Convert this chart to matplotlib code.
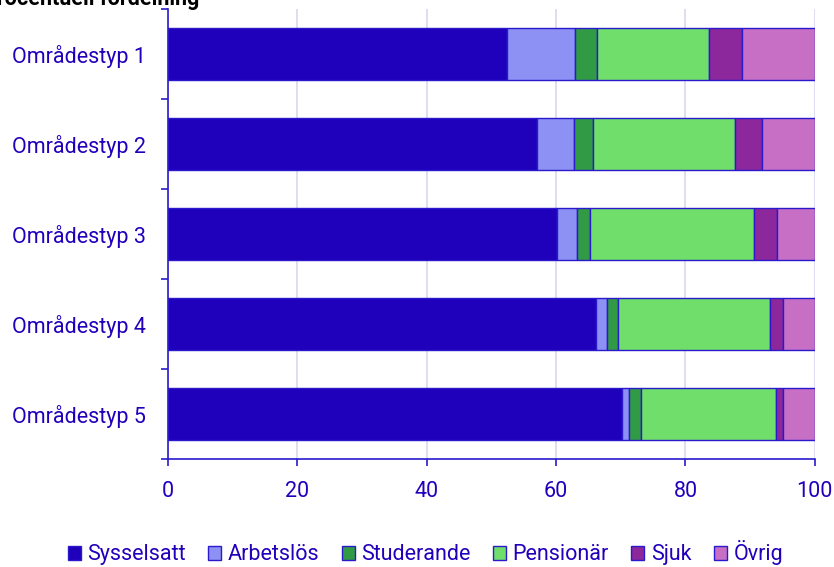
import matplotlib.pyplot as plt
import numpy as np

plt.rcParams['font.family'] = ['Roboto', 'DejaVu Sans']

# data (percent of each area type)
areas = ['Områdestyp 1', 'Områdestyp 2', 'Områdestyp 3', 'Områdestyp 4', 'Områdestyp 5']
groups = ['Sysselsatt', 'Arbetslös', 'Studerande', 'Pensionär', 'Sjuk', 'Övrig']
sysselsatt = [52.4, 57.1, 60.1, 66.1, 70.2]
arbetslos = [10.6, 5.6, 3.2, 1.7, 1.0]
studerande = [3.3, 3.0, 2.0, 1.8, 1.9]
pensionar = [17.4, 21.9, 25.3, 23.4, 20.9]
sjuk = [5.0, 4.3, 3.6, 2.1, 1.1]
ovrig = [11.3, 8.1, 5.8, 4.9, 4.9]
xticks = [0, 20, 40, 60, 80, 100]

colors = ['#1f00bb', '#8c91f3', '#309a45', '#6fde6b', '#8c289c', '#c66fc5']
edge = '#2a1acc'
blue = '#2200bb'

series = [sysselsatt, arbetslos, studerande, pensionar, sjuk, ovrig]

fig = plt.figure(figsize=(8.34, 5.67), dpi=100)
ax = fig.add_axes([0.2014, 0.1905, 0.7756, 0.7935])

y = np.arange(len(areas))
left = np.zeros(len(areas))
for name, vals, col in zip(groups, series, colors):
    ax.barh(y, vals, left=left, height=0.58, color=col, edgecolor=edge,
            linewidth=1, label=name, zorder=3)
    left += np.array(vals)

ax.set_xlim(0, 100)
ax.set_ylim(len(areas) - 0.5, -0.5)
ax.set_yticks(y)
ax.set_yticklabels(areas)
ax.set_yticks(np.arange(-0.5, len(areas), 1), minor=True)
ax.tick_params(axis='y', which='major', length=0, pad=16, labelsize=15.5, labelcolor=blue)
ax.tick_params(axis='y', which='minor', length=5, width=1.2, color=edge)
ax.set_xticks(xticks)
ax.tick_params(axis='x', length=5, width=1.2, color=edge, labelsize=15.5,
               labelcolor=blue, pad=11)

ax.grid(axis='x', color='#d8d8f0', linewidth=1.2, zorder=0)
for s in ['top', 'right']:
    ax.spines[s].set_visible(False)
for s in ['left', 'bottom']:
    ax.spines[s].set_color(edge)
    ax.spines[s].set_linewidth(1.2)

fig.text(-0.02, 1 - 5 / 567, 'Procentuell fördelning', fontsize=15.5, fontweight='bold',
         color='black', va='baseline', ha='left')

leg = fig.legend(loc='center', bbox_to_anchor=(0.51, 0.025), ncol=6, frameon=False,
                 fontsize=15.5, handlelength=0.6, handleheight=0.6, handletextpad=0.3,
                 columnspacing=1.05, borderaxespad=0)
for t in leg.get_texts():
    t.set_color(blue)

fig.savefig('out.png', dpi=100)
